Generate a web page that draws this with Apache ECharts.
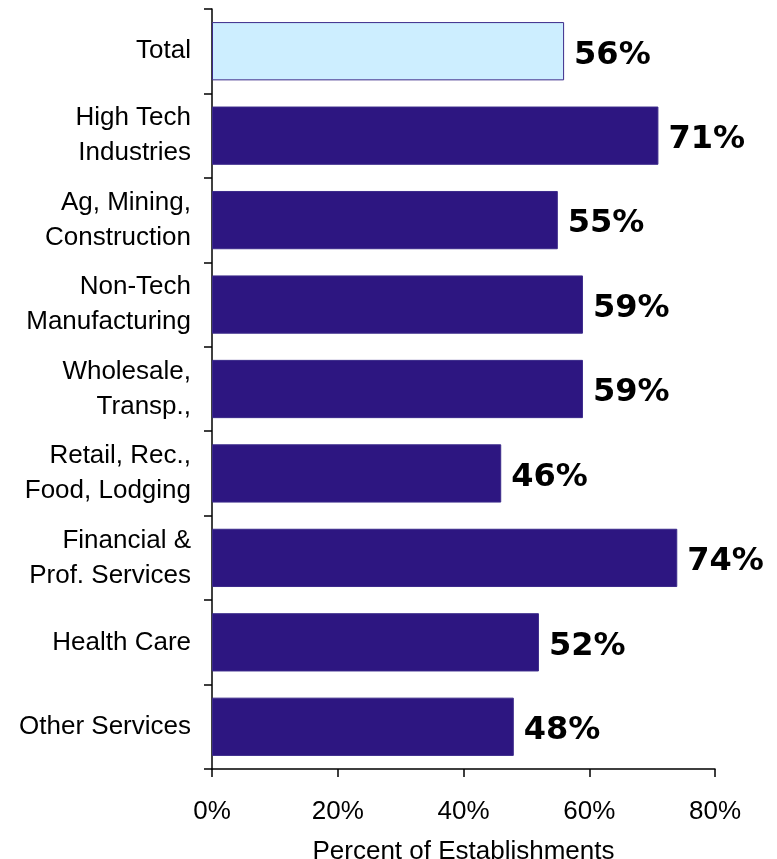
<!DOCTYPE html>
<html>
<head>
<meta charset="utf-8">
<style>
  html, body { margin: 0; padding: 0; background: #ffffff; }
  #chart { width: 777px; height: 859px; }
</style>
<script src="https://cdn.jsdelivr.net/npm/echarts@6/dist/echarts.min.js"></script>
</head>
<body>
<div id="chart"></div>
<script>
// Share of establishments by industry group
const categories = [
  'Total',
  'High Tech\nIndustries',
  'Ag, Mining,\nConstruction',
  'Non-Tech\nManufacturing',
  'Wholesale,\nTransp.,',
  'Retail, Rec.,\nFood, Lodging',
  'Financial &\nProf. Services',
  'Health Care',
  'Other Services'
];
const percentValues = [56, 71, 55, 59, 59, 46, 74, 52, 48];
const xTicks = [0, 20, 40, 60, 80];

const FONT = '"Liberation Sans", Arial, sans-serif';
const BOLD_FONT = '"DejaVu Sans", Verdana, sans-serif';

const chart = echarts.init(document.getElementById('chart'));
chart.setOption({
  animation: false,
  backgroundColor: '#ffffff',
  grid: {
    left: 212, right: 62, top: 9, bottom: 90,
    containLabel: false,
    outerBoundsMode: 'none'
  },
  xAxis: {
    type: 'value',
    min: xTicks[0],
    max: xTicks[xTicks.length - 1],
    interval: xTicks[1] - xTicks[0],
    splitLine: { show: false },
    axisLine: { show: true, lineStyle: { color: '#000', width: 1.5 } },
    axisTick: { show: true, length: 8, lineStyle: { color: '#000', width: 1.5 } },
    axisLabel: { formatter: '{value}%', color: '#000', fontSize: 26, fontFamily: FONT, margin: 30 },
    name: 'Percent of Establishments',
    nameLocation: 'middle',
    nameGap: 70,
    nameTextStyle: { color: '#000', fontSize: 26, fontFamily: FONT }
  },
  yAxis: {
    type: 'category',
    data: categories,
    inverse: true,
    axisLine: { show: true, lineStyle: { color: '#000', width: 1.5 } },
    axisTick: { show: true, length: 8, lineStyle: { color: '#000', width: 1.5 } },
    axisLabel: {
      color: '#000', fontSize: 26, fontFamily: FONT, margin: 21,
      align: 'right', lineHeight: 35, padding: [4, 0, 0, 0]
    }
  },
  series: [{
    type: 'bar',
    data: percentValues,
    barCategoryGap: '31%',
    itemStyle: {
      color: p => p.dataIndex === 0 ? '#cdeeff' : '#2d1681',
      borderColor: '#3b2a8a',
      borderWidth: 1
    },
    label: {
      show: true,
      position: 'right',
      distance: 10,
      offset: [0, 4],
      formatter: '{c}%',
      color: '#000',
      fontSize: 32,
      fontWeight: 'bold',
      fontFamily: BOLD_FONT
    }
  }]
});
</script>
</body>
</html>
